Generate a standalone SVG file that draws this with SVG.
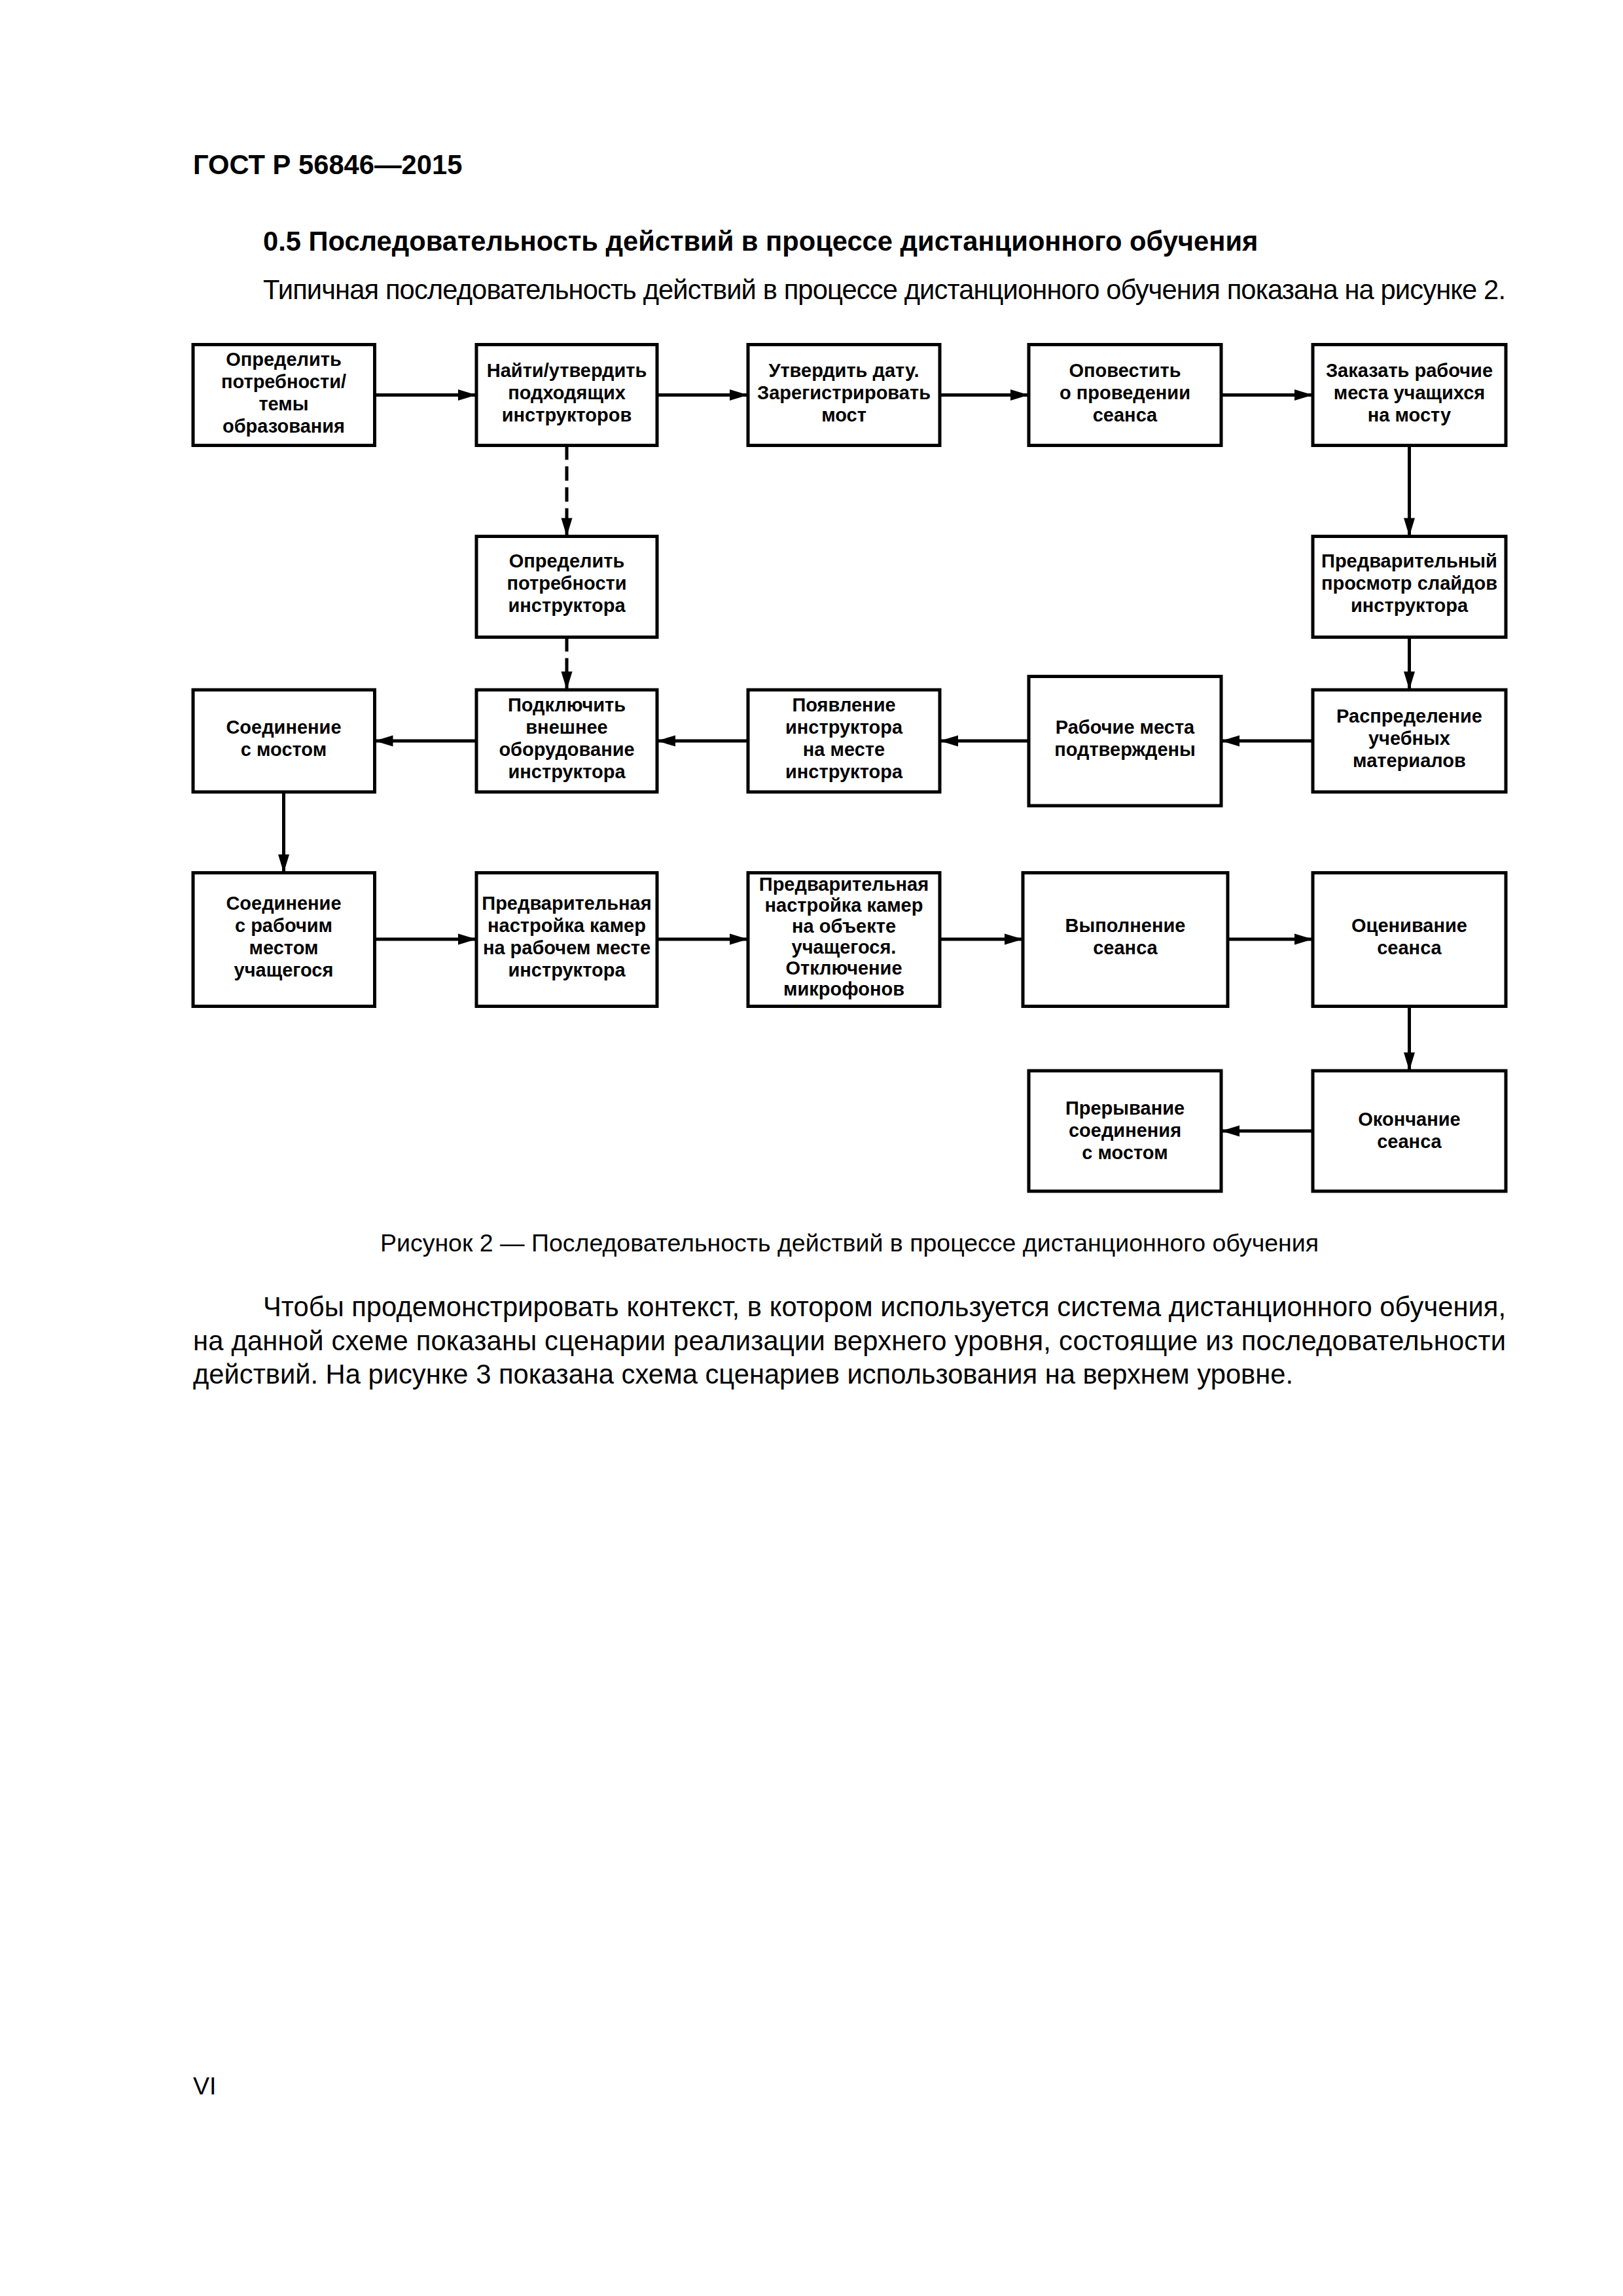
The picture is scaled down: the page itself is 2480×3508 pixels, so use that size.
<svg xmlns="http://www.w3.org/2000/svg" width="2480" height="3508" viewBox="0 0 2480 3508">
<style>
.page { font-family: "Liberation Sans", Arial, sans-serif; fill: #000; }
.hdr { font-size: 41.7px; font-weight: bold; }
.h2 { font-size: 41.7px; font-weight: bold; }
.body { font-size: 41.7px; }
.cap { font-size: 37.5px; text-anchor: middle; }
.pg { font-size: 37.5px; }
.box { fill: #fff; stroke: #000; stroke-width: 5; }
.t { font-family: "Liberation Sans", Arial, sans-serif; font-weight: bold; font-size: 29px; text-anchor: middle; fill: #000; }
.c { fill: none; stroke: #000; stroke-width: 5; marker-end: url(#ah); }
.d { stroke-dasharray: 22 10; }
</style>
<defs>
<marker id="ah" markerUnits="userSpaceOnUse" markerWidth="28" markerHeight="17" refX="28" refY="8.5" orient="auto" overflow="visible">
<path d="M0,0 L28,8.5 L0,17 Z" fill="#000"/>
</marker>
</defs>
<rect width="2480" height="3508" fill="#fff"/>

<g id="page-text" class="page">
<text class="hdr" x="295" y="266">ГОСТ Р 56846—2015</text>
<text class="h2" x="402" y="383">0.5 Последовательность действий в процессе дистанционного обучения</text>
<text class="body" x="402" y="457" textLength="1899" lengthAdjust="spacing">Типичная последовательность действий в процессе дистанционного обучения показана на рисунке 2.</text>
<text class="cap" x="1298" y="1912">Рисунок 2 — Последовательность действий в процессе дистанционного обучения</text>
<text class="body" x="402" y="2011" textLength="1899" lengthAdjust="spacing">Чтобы продемонстрировать контекст, в котором используется система дистанционного обучения,</text>
<text class="body" x="295" y="2063" textLength="2006" lengthAdjust="spacing">на данной схеме показаны сценарии реализации верхнего уровня, состоящие из последовательности</text>
<text class="body" x="295" y="2114">действий. На рисунке 3 показана схема сценариев использования на верхнем уровне.</text>
<text class="pg" x="295" y="3200">VI</text>
</g>

<g id="connectors">
<line class="c" x1="572.5" y1="603.5" x2="728" y2="603.5"/>
<line class="c" x1="1004" y1="603.5" x2="1143" y2="603.5"/>
<line class="c" x1="1436" y1="603.5" x2="1572" y2="603.5"/>
<line class="c" x1="1866" y1="603.5" x2="2006" y2="603.5"/>
<line class="c d" x1="866" y1="680.5" x2="866" y2="819.5"/>
<line class="c d" x1="866" y1="973.5" x2="866" y2="1054"/>
<line class="c" x1="2153.5" y1="680.5" x2="2153.5" y2="819.5"/>
<line class="c" x1="2153.5" y1="973.5" x2="2153.5" y2="1054"/>
<line class="c" x1="2006" y1="1132" x2="1866" y2="1132"/>
<line class="c" x1="1572" y1="1132" x2="1436" y2="1132"/>
<line class="c" x1="1143" y1="1132" x2="1004" y2="1132"/>
<line class="c" x1="728" y1="1132" x2="572.5" y2="1132"/>
<line class="c" x1="433.5" y1="1210" x2="433.5" y2="1333.5"/>
<line class="c" x1="572.5" y1="1435" x2="728" y2="1435"/>
<line class="c" x1="1004" y1="1435" x2="1143" y2="1435"/>
<line class="c" x1="1436" y1="1435" x2="1563" y2="1435"/>
<line class="c" x1="1876" y1="1435" x2="2006" y2="1435"/>
<line class="c" x1="2153.5" y1="1537.5" x2="2153.5" y2="1636"/>
<line class="c" x1="2006" y1="1728" x2="1866" y2="1728"/>
</g>

<g id="n1">
<rect class="box" x="295" y="526.5" width="277.5" height="154"/>
<text class="t" x="433.5" y="559">Определить</text>
<text class="t" x="433.5" y="593">потребности/</text>
<text class="t" x="433.5" y="627">темы</text>
<text class="t" x="433.5" y="661">образования</text>
</g>
<g id="n2">
<rect class="box" x="728" y="526.5" width="276" height="154"/>
<text class="t" x="866" y="576">Найти/утвердить</text>
<text class="t" x="866" y="610">подходящих</text>
<text class="t" x="866" y="644">инструкторов</text>
</g>
<g id="n3">
<rect class="box" x="1143" y="526.5" width="293" height="154"/>
<text class="t" x="1289.5" y="576">Утвердить дату.</text>
<text class="t" x="1289.5" y="610">Зарегистрировать</text>
<text class="t" x="1289.5" y="644">мост</text>
</g>
<g id="n4">
<rect class="box" x="1572" y="526.5" width="294" height="154"/>
<text class="t" x="1719" y="576">Оповестить</text>
<text class="t" x="1719" y="610">о проведении</text>
<text class="t" x="1719" y="644">сеанса</text>
</g>
<g id="n5">
<rect class="box" x="2006" y="526.5" width="295" height="154"/>
<text class="t" x="2153.5" y="576">Заказать рабочие</text>
<text class="t" x="2153.5" y="610">места учащихся</text>
<text class="t" x="2153.5" y="644">на мосту</text>
</g>
<g id="n6">
<rect class="box" x="728" y="819.5" width="276" height="154"/>
<text class="t" x="866" y="867">Определить</text>
<text class="t" x="866" y="901">потребности</text>
<text class="t" x="866" y="935">инструктора</text>
</g>
<g id="n7">
<rect class="box" x="2006" y="819.5" width="295" height="154"/>
<text class="t" x="2153.5" y="867">Предварительный</text>
<text class="t" x="2153.5" y="901">просмотр слайдов</text>
<text class="t" x="2153.5" y="935">инструктора</text>
</g>
<g id="n8">
<rect class="box" x="2006" y="1054" width="295" height="156"/>
<text class="t" x="2153.5" y="1104">Распределение</text>
<text class="t" x="2153.5" y="1138">учебных</text>
<text class="t" x="2153.5" y="1172">материалов</text>
</g>
<g id="n9">
<rect class="box" x="1572" y="1033.5" width="294" height="197.5"/>
<text class="t" x="1719" y="1121">Рабочие места</text>
<text class="t" x="1719" y="1155">подтверждены</text>
</g>
<g id="n10">
<rect class="box" x="1143" y="1054" width="293" height="156"/>
<text class="t" x="1289.5" y="1087">Появление</text>
<text class="t" x="1289.5" y="1121">инструктора</text>
<text class="t" x="1289.5" y="1155">на месте</text>
<text class="t" x="1289.5" y="1189">инструктора</text>
</g>
<g id="n11">
<rect class="box" x="728" y="1054" width="276" height="156"/>
<text class="t" x="866" y="1087">Подключить</text>
<text class="t" x="866" y="1121">внешнее</text>
<text class="t" x="866" y="1155">оборудование</text>
<text class="t" x="866" y="1189">инструктора</text>
</g>
<g id="n12">
<rect class="box" x="295" y="1054" width="277.5" height="156"/>
<text class="t" x="433.5" y="1121">Соединение</text>
<text class="t" x="433.5" y="1155">с мостом</text>
</g>
<g id="n13">
<rect class="box" x="295" y="1333.5" width="277.5" height="204"/>
<text class="t" x="433.5" y="1390">Соединение</text>
<text class="t" x="433.5" y="1424">с рабочим</text>
<text class="t" x="433.5" y="1458">местом</text>
<text class="t" x="433.5" y="1492">учащегося</text>
</g>
<g id="n14">
<rect class="box" x="728" y="1333.5" width="276" height="204"/>
<text class="t" x="866" y="1390">Предварительная</text>
<text class="t" x="866" y="1424">настройка камер</text>
<text class="t" x="866" y="1458">на рабочем месте</text>
<text class="t" x="866" y="1492">инструктора</text>
</g>
<g id="n15">
<rect class="box" x="1143" y="1333.5" width="293" height="204"/>
<text class="t" x="1289.5" y="1361">Предварительная</text>
<text class="t" x="1289.5" y="1393">настройка камер</text>
<text class="t" x="1289.5" y="1425">на объекте</text>
<text class="t" x="1289.5" y="1457">учащегося.</text>
<text class="t" x="1289.5" y="1489">Отключение</text>
<text class="t" x="1289.5" y="1521">микрофонов</text>
</g>
<g id="n16">
<rect class="box" x="1563" y="1333.5" width="313" height="204"/>
<text class="t" x="1719.5" y="1424">Выполнение</text>
<text class="t" x="1719.5" y="1458">сеанса</text>
</g>
<g id="n17">
<rect class="box" x="2006" y="1333.5" width="295" height="204"/>
<text class="t" x="2153.5" y="1424">Оценивание</text>
<text class="t" x="2153.5" y="1458">сеанса</text>
</g>
<g id="n18">
<rect class="box" x="2006" y="1636" width="295" height="184"/>
<text class="t" x="2153.5" y="1720">Окончание</text>
<text class="t" x="2153.5" y="1754">сеанса</text>
</g>
<g id="n19">
<rect class="box" x="1572" y="1636" width="294" height="184"/>
<text class="t" x="1719" y="1703">Прерывание</text>
<text class="t" x="1719" y="1737">соединения</text>
<text class="t" x="1719" y="1771">с мостом</text>
</g>
</svg>
